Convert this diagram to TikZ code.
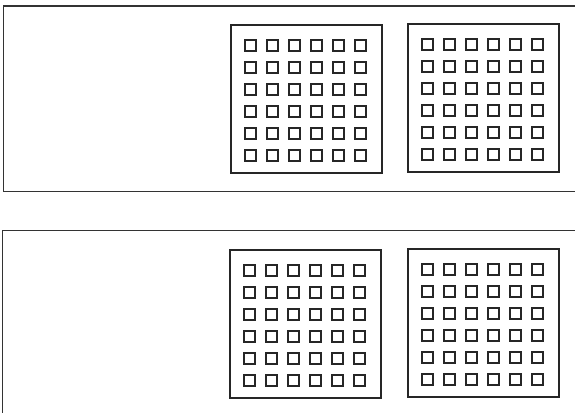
\documentclass[tikz,border=0pt]{standalone}
\begin{document}
\begin{tikzpicture}[x=1pt,y=-1pt,
  outer/.style={draw=black!80,line width=1.6pt},
  chipbox/.style={draw=black!85,line width=1.5pt},
  pad/.style={draw=black!85,line width=2pt},
  chip/.pic={
    \draw[chipbox] (0,0) rectangle (151,148);
    \foreach \i in {0,...,5}{
      \foreach \j in {0,...,5}{
        \draw[pad] ({14+22*\i},{15+22*\j}) rectangle ++(11,11);
      }
    }
  }]
\useasboundingbox (0,0) rectangle (575,412);
\clip (0,0) rectangle (575,412);
\draw[outer] (3.5,6) rectangle (590,191.5);
\draw[outer] (2.5,230.5) rectangle (590,430);
\pic at (231,25) {chip};
\pic at (408,24) {chip};
\pic at (230,250) {chip};
\pic at (408,249) {chip};
\end{tikzpicture}
\end{document}
